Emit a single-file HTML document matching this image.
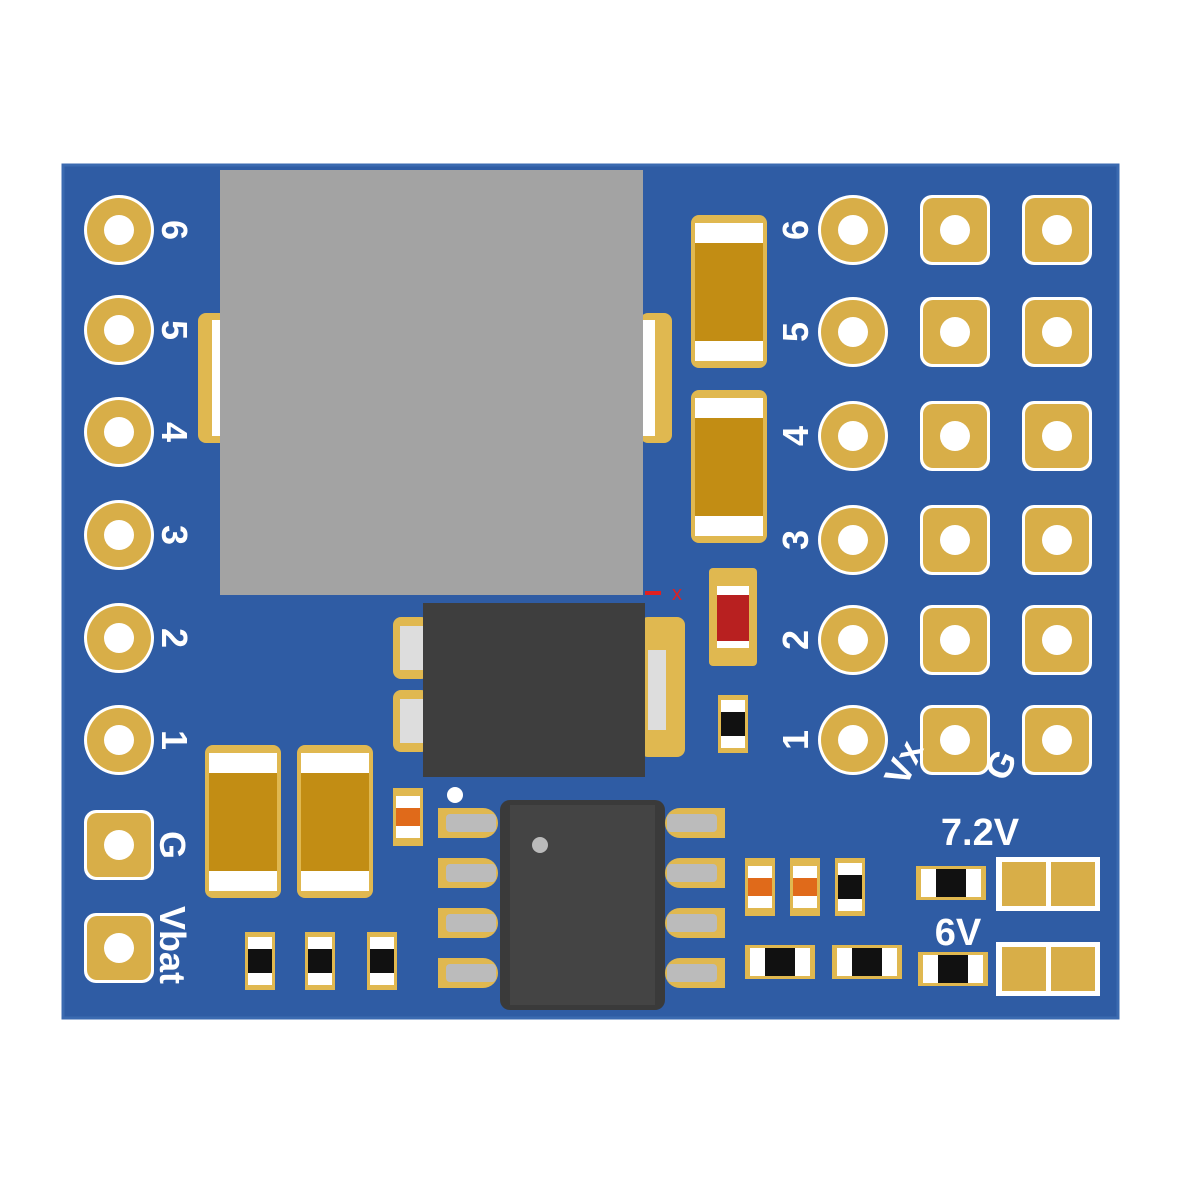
<!DOCTYPE html>
<html><head><meta charset="utf-8"><style>html,body{margin:0;padding:0;background:#fff}svg{display:block}</style></head>
<body>
<svg width="1200" height="1200" viewBox="0 0 1200 1200" xmlns="http://www.w3.org/2000/svg" font-family="Liberation Sans, DejaVu Sans, sans-serif">
<defs>
<g id="rp"><circle r="35" fill="#fff"/><circle r="32" fill="#d8ae48"/><circle r="15" fill="#fff"/></g>
<g id="sp"><rect x="-35" y="-35" width="70" height="70" rx="12" fill="#fff"/><rect x="-32" y="-32" width="64" height="64" rx="10" fill="#d8ae48"/><circle r="15" fill="#fff"/></g>
<g id="cap"><rect x="0" y="0" width="76" height="153" rx="8" fill="#e0b850"/><rect x="4" y="8" width="68" height="20" fill="#fff"/><rect x="4" y="28" width="68" height="98" fill="#c28d14"/><rect x="4" y="126" width="68" height="20" fill="#fff"/></g>
<g id="rv"><rect x="0" y="0" width="30" height="58" fill="#e0b850"/><rect x="3" y="5" width="24" height="48" fill="#fff"/><rect x="3" y="17" width="24" height="24" fill="#111"/></g>
<g id="rh"><rect x="0" y="0" width="70" height="34" fill="#e0b850"/><rect x="5" y="3" width="60" height="28" fill="#fff"/><rect x="20" y="3" width="30" height="28" fill="#111"/></g>
<g id="cv"><rect x="0" y="0" width="30" height="58" fill="#e0b850"/><rect x="3" y="8" width="24" height="42" fill="#fff"/><rect x="3" y="20" width="24" height="18" fill="#e06a1a"/></g>
<g id="lead"><path d="M0,0 h45 a15,15 0 0 1 0,30 h-45z" fill="#e0b850"/><rect x="8" y="6" width="50" height="18" rx="4" fill="#bbb"/></g>
<g id="leadr"><path d="M60,0 h-45 a15,15 0 0 0 0,30 h45z" fill="#e0b850"/><rect x="2" y="6" width="50" height="18" rx="4" fill="#bbb"/></g>
</defs>
<rect x="63" y="165" width="1055" height="853" fill="#2f5ca4"/>
<rect x="63" y="165" width="1055" height="853" fill="none" stroke="#3b6ab0" stroke-width="3"/>
<rect x="198" y="313" width="30" height="130" rx="8" fill="#e0b850"/><rect x="212" y="320" width="12" height="116" fill="#fff"/>
<rect x="640" y="313" width="32" height="130" rx="8" fill="#e0b850"/><rect x="643" y="320" width="12" height="116" fill="#fff"/>
<rect x="220" y="170" width="423" height="425" fill="#a3a3a3"/>
<text x="672" y="600" fill="#e02020" font-size="20">x</text><rect x="645" y="591" width="16" height="4" fill="#e02020"/>
<text x="566" y="625" fill="#2040c0" font-size="16">z</text>
<use href="#rp" x="119" y="230"/><use href="#rp" x="119" y="330"/><use href="#rp" x="119" y="432"/><use href="#rp" x="119" y="535"/><use href="#rp" x="119" y="638"/><use href="#rp" x="119" y="740"/>
<use href="#sp" x="119" y="845"/><use href="#sp" x="119" y="948"/>
<use href="#rp" x="853" y="230"/><use href="#rp" x="853" y="332"/><use href="#rp" x="853" y="436"/><use href="#rp" x="853" y="540"/><use href="#rp" x="853" y="640"/><use href="#rp" x="853" y="740"/>
<use href="#sp" x="955" y="230"/><use href="#sp" x="955" y="332"/><use href="#sp" x="955" y="436"/><use href="#sp" x="955" y="540"/><use href="#sp" x="955" y="640"/><use href="#sp" x="955" y="740"/>
<use href="#sp" x="1057" y="230"/><use href="#sp" x="1057" y="332"/><use href="#sp" x="1057" y="436"/><use href="#sp" x="1057" y="540"/><use href="#sp" x="1057" y="640"/><use href="#sp" x="1057" y="740"/>
<g fill="#fff" font-size="36" font-weight="bold">
<text transform="translate(162,230) rotate(90)" text-anchor="middle">6</text>
<text transform="translate(162,330) rotate(90)" text-anchor="middle">5</text>
<text transform="translate(162,432) rotate(90)" text-anchor="middle">4</text>
<text transform="translate(162,535) rotate(90)" text-anchor="middle">3</text>
<text transform="translate(162,638) rotate(90)" text-anchor="middle">2</text>
<text transform="translate(162,740) rotate(90)" text-anchor="middle">1</text>
<text transform="translate(160,845) rotate(90)" text-anchor="middle">G</text>
<text transform="translate(160,945) rotate(90)" text-anchor="middle">Vbat</text>
<text transform="translate(808,230) rotate(-90)" text-anchor="middle">6</text>
<text transform="translate(808,332) rotate(-90)" text-anchor="middle">5</text>
<text transform="translate(808,436) rotate(-90)" text-anchor="middle">4</text>
<text transform="translate(808,540) rotate(-90)" text-anchor="middle">3</text>
<text transform="translate(808,640) rotate(-90)" text-anchor="middle">2</text>
<text transform="translate(808,740) rotate(-90)" text-anchor="middle">1</text>
<text transform="translate(915,768) rotate(-65)" text-anchor="middle">Vx</text>
<text transform="translate(1012,770) rotate(-65)" text-anchor="middle">G</text>
<text x="980" y="845" text-anchor="middle" font-size="38">7.2V</text>
<text x="958" y="945" text-anchor="middle" font-size="38">6V</text>
</g>
<use href="#cap" x="691" y="215"/><use href="#cap" x="691" y="390"/>
<use href="#cap" x="205" y="745"/><use href="#cap" x="297" y="745"/>
<rect x="709" y="568" width="48" height="98" rx="4" fill="#e0b850"/><rect x="717" y="586" width="32" height="62" fill="#fff"/><rect x="717" y="595" width="32" height="46" fill="#b82020"/>
<use href="#rv" x="718" y="695"/>
<rect x="393" y="617" width="36" height="62" rx="8" fill="#e0b850"/><rect x="400" y="626" width="24" height="44" fill="#ddd"/>
<rect x="393" y="690" width="36" height="62" rx="8" fill="#e0b850"/><rect x="400" y="699" width="24" height="44" fill="#ddd"/>
<rect x="640" y="617" width="45" height="140" rx="8" fill="#e0b850"/><rect x="648" y="650" width="18" height="80" fill="#ddd"/>
<rect x="423" y="603" width="222" height="174" fill="#3e3e3e"/>
<circle cx="455" cy="795" r="8" fill="#fff"/>
<use href="#cv" x="393" y="788"/>
<use href="#lead" x="438" y="808"/><use href="#lead" x="438" y="858"/><use href="#lead" x="438" y="908"/><use href="#lead" x="438" y="958"/>
<use href="#leadr" x="665" y="808"/><use href="#leadr" x="665" y="858"/><use href="#leadr" x="665" y="908"/><use href="#leadr" x="665" y="958"/>
<rect x="500" y="800" width="165" height="210" rx="10" fill="#3a3a3a"/>
<rect x="510" y="805" width="145" height="200" fill="#444"/>
<circle cx="540" cy="845" r="8" fill="#bbb"/>
<use href="#rv" x="245" y="932"/><use href="#rv" x="305" y="932"/><use href="#rv" x="367" y="932"/>
<use href="#cv" x="745" y="858"/><use href="#cv" x="790" y="858"/><use href="#rv" x="835" y="858"/>
<use href="#rh" x="745" y="945"/><use href="#rh" x="832" y="945"/>
<use href="#rh" x="916" y="866"/><use href="#rh" x="918" y="952"/>
<rect x="996" y="857" width="104" height="54" fill="#fff"/><rect x="1002" y="862" width="44" height="44" fill="#d8ae48"/><rect x="1051" y="862" width="44" height="44" fill="#d8ae48"/>
<rect x="996" y="942" width="104" height="54" fill="#fff"/><rect x="1002" y="947" width="44" height="44" fill="#d8ae48"/><rect x="1051" y="947" width="44" height="44" fill="#d8ae48"/>
</svg>
</body></html>
